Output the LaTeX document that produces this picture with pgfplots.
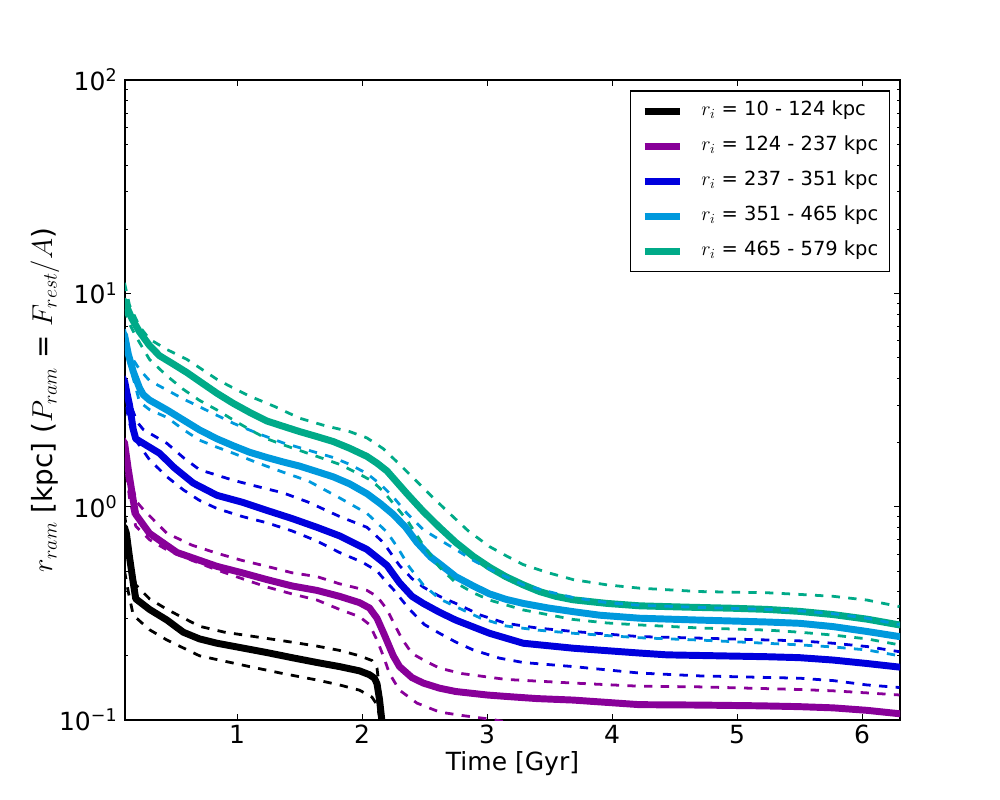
\documentclass[border=0pt]{standalone}
\usepackage{pgfplots}
\pgfplotsset{compat=1.18}
\usepackage{fontspec}
\setmainfont{DejaVu Sans}
\definecolor{cK}{rgb}{0,0,0}
\definecolor{cP}{rgb}{0.5333,0,0.6}
\definecolor{cB}{rgb}{0,0,0.8667}
\definecolor{cL}{rgb}{0,0.6,0.8667}
\definecolor{cG}{rgb}{0,0.6667,0.5333}
\pgfplotsset{
  sol/.style={line width=5bp, line join=round, line cap=round,
    legend image code/.code={\draw[line width=5bp, line cap=butt] (0bp,0bp) -- (25.2bp,0bp);}},
  das/.style={line width=2bp, dash pattern=on 6bp off 6bp, line join=round},
}
\begin{document}
\begin{tikzpicture}
\useasboundingbox (0,0) rectangle (10in,8in);
\begin{axis}[
  at={(1.25in,0.8in)}, anchor=south west,
  scale only axis, width=7.75in, height=6.4in,
  xmin=0.104, xmax=6.304, ymode=log, ymin=0.1, ymax=100,
  xtick={1,2,3,4,5,6},
  ytick={0.1,1,10,100},
  yticklabels={10\textsuperscript{−1},10\textsuperscript{0},10\textsuperscript{1},10\textsuperscript{2}},
  minor ytick={0.2,0.3,0.4,0.5,0.6,0.7,0.8,0.9,2,3,4,5,6,7,8,9,20,30,40,50,60,70,80,90},
  minor xtick={},
  /pgf/number format/assume math mode=true,
  tick pos=both, tick align=inside,
  major tick length=4bp, minor tick length=2bp,
  every tick/.style={black, line width=0.5bp},
  axis line style={line width=1bp},
  ticklabel style={font=\fontsize{18bp}{21.6bp}\selectfont},
  xticklabel style={yshift=0bp},
  yticklabel style={xshift=-2bp},
  xlabel={Time [Gyr]},
  xlabel style={font=\fontsize{18bp}{21.6bp}\selectfont, at={(axis description cs:0.5,-0.068)}, anchor=center},
  ylabel={$r_{ram}$ [kpc] ($P_{ram}$ = $F_{rest}/A$)},
  ylabel style={font=\fontsize{20bp}{24bp}\selectfont, at={(axis description cs:-0.1032,0.5)}, anchor=center},
  legend cell align=left,
  legend style={at={(axis description cs:0.987,0.984)}, anchor=north east,
    draw=black, line width=1bp, font=\fontsize{14bp}{16.8bp}\selectfont,
    inner xsep=7.9bp, inner ysep=8bp, row sep=12.2bp, column sep=0bp,
    nodes={inner sep=0bp, text height=10bp, text depth=3bp}},
]
% ---- solid lines ----
\addplot[sol, cK] coordinates {(0.10,0.80) (0.115,0.75) (0.14,0.58) (0.17,0.44) (0.19,0.37) (0.30,0.33) (0.44,0.294) (0.57,0.258) (0.70,0.240) (0.84,0.229) (1.00,0.220) (1.24,0.207) (1.44,0.196) (1.64,0.186) (1.82,0.178) (1.98,0.170) (2.06,0.163) (2.10,0.157) (2.12,0.148) (2.14,0.125) (2.16,0.098)};
\addlegendentry{\hspace{13bp}$r_i$ = 10 - 124 kpc}
\addplot[sol, cP] coordinates {(0.10,2.0) (0.13,1.5) (0.17,1.07) (0.19,0.92) (0.30,0.75) (0.52,0.61) (0.84,0.525) (1.04,0.49) (1.24,0.455) (1.44,0.425) (1.64,0.405) (1.82,0.38) (1.98,0.355) (2.06,0.335) (2.12,0.30) (2.18,0.25) (2.25,0.20) (2.30,0.178) (2.40,0.158) (2.49,0.149) (2.62,0.141) (2.75,0.136) (3.0,0.131) (3.15,0.129) (3.4,0.126) (3.69,0.124) (4.22,0.118) (4.7,0.1175) (5.2,0.1165) (5.5,0.1155) (5.77,0.114) (6.04,0.111) (6.3,0.107)};
\addlegendentry{\hspace{13bp}$r_i$ = 124 - 237 kpc}
\addplot[sol, cB] coordinates {(0.10,3.9) (0.12,3.4) (0.14,3.0) (0.17,2.3) (0.19,2.08) (0.38,1.78) (0.50,1.52) (0.65,1.29) (0.84,1.13) (1.04,1.05) (1.24,0.96) (1.44,0.88) (1.64,0.80) (1.82,0.73) (2.04,0.63) (2.15,0.56) (2.20,0.53) (2.30,0.44) (2.40,0.38) (2.49,0.352) (2.62,0.32) (2.75,0.294) (3.02,0.255) (3.29,0.229) (3.69,0.217) (4.22,0.206) (4.44,0.202) (5.24,0.198) (5.5,0.196) (5.77,0.191) (6.04,0.184) (6.3,0.177)};
\addlegendentry{\hspace{13bp}$r_i$ = 237 - 351 kpc}
\addplot[sol, cL] coordinates {(0.10,6.4) (0.13,5.2) (0.17,4.3) (0.22,3.6) (0.25,3.35) (0.30,3.16) (0.44,2.84) (0.57,2.55) (0.70,2.29) (0.84,2.08) (0.97,1.93) (1.10,1.80) (1.24,1.70) (1.37,1.62) (1.50,1.55) (1.64,1.46) (1.77,1.38) (1.90,1.28) (2.04,1.15) (2.15,1.03) (2.25,0.92) (2.35,0.80) (2.44,0.68) (2.55,0.58) (2.62,0.54) (2.75,0.47) (2.89,0.425) (3.02,0.39) (3.15,0.368) (3.29,0.352) (3.49,0.335) (3.69,0.322) (3.9,0.31) (4.22,0.30) (4.7,0.294) (5.24,0.288) (5.5,0.284) (5.77,0.274) (6.04,0.26) (6.3,0.246)};
\addlegendentry{\hspace{13bp}$r_i$ = 351 - 465 kpc}
\addplot[sol, cG] coordinates {(0.10,9.2) (0.12,8.6) (0.16,7.6) (0.22,6.6) (0.30,5.7) (0.38,5.1) (0.48,4.7) (0.60,4.25) (0.72,3.8) (0.84,3.4) (0.97,3.05) (1.10,2.77) (1.24,2.52) (1.37,2.38) (1.50,2.25) (1.64,2.13) (1.77,2.02) (1.90,1.88) (2.04,1.72) (2.12,1.60) (2.20,1.47) (2.28,1.30) (2.36,1.15) (2.49,0.95) (2.62,0.80) (2.75,0.68) (2.89,0.585) (3.02,0.52) (3.15,0.47) (3.29,0.43) (3.42,0.40) (3.55,0.38) (3.69,0.366) (3.96,0.352) (4.22,0.343) (4.6,0.338) (4.97,0.334) (5.24,0.33) (5.5,0.323) (5.77,0.312) (6.04,0.297) (6.3,0.279)};
\addlegendentry{\hspace{13bp}$r_i$ = 465 - 579 kpc}
% ---- dashed lines ----
\addplot[das, cK, forget plot] coordinates {(0.10,0.92) (0.13,0.70) (0.16,0.50) (0.19,0.43) (0.30,0.37) (0.44,0.33) (0.70,0.275) (0.90,0.258) (1.10,0.248) (1.37,0.235) (1.64,0.222) (1.82,0.212) (1.98,0.200) (2.08,0.190) (2.12,0.175) (2.14,0.14) (2.16,0.098)};
\addplot[das, cK, forget plot] coordinates {(0.10,0.50) (0.13,0.40) (0.17,0.31) (0.30,0.265) (0.44,0.237) (0.70,0.200) (1.10,0.178) (1.37,0.165) (1.64,0.154) (1.82,0.146) (1.98,0.138) (2.08,0.128) (2.12,0.118) (2.15,0.098)};
\addplot[das, cP, forget plot] coordinates {(0.10,2.1) (0.15,1.3) (0.20,1.05) (0.25,0.97) (0.44,0.75) (0.64,0.66) (0.84,0.605) (1.04,0.56) (1.24,0.525) (1.44,0.49) (1.64,0.47) (1.82,0.435) (2.04,0.405) (2.12,0.38) (2.20,0.33) (2.26,0.28) (2.32,0.24) (2.40,0.205) (2.50,0.19) (2.62,0.175) (2.80,0.165) (3.15,0.155) (3.69,0.149) (4.22,0.144) (4.7,0.143) (5.5,0.139) (5.77,0.137) (6.04,0.134) (6.3,0.131)};
\addplot[das, cP, forget plot] coordinates {(0.10,1.7) (0.14,1.1) (0.19,0.81) (0.30,0.70) (0.44,0.627) (0.64,0.56) (0.84,0.505) (1.04,0.46) (1.24,0.42) (1.44,0.39) (1.64,0.365) (1.82,0.33) (1.98,0.305) (2.06,0.28) (2.12,0.237) (2.17,0.20) (2.22,0.165) (2.30,0.138) (2.44,0.12) (2.62,0.109) (2.80,0.105) (3.02,0.101) (3.15,0.098)};
\addplot[das, cB, forget plot] coordinates {(0.10,4.1) (0.15,3.0) (0.20,2.5) (0.25,2.3) (0.44,1.98) (0.57,1.70) (0.70,1.49) (0.97,1.33) (1.17,1.24) (1.37,1.16) (1.57,1.05) (1.82,0.90) (2.04,0.80) (2.17,0.68) (2.30,0.53) (2.40,0.46) (2.49,0.42) (2.62,0.38) (2.75,0.352) (2.95,0.31) (3.15,0.284) (3.4,0.27) (3.69,0.26) (4.22,0.246) (4.7,0.242) (5.5,0.235) (5.77,0.229) (6.04,0.221) (6.3,0.209)};
\addplot[das, cB, forget plot] coordinates {(0.10,3.5) (0.13,2.6) (0.17,2.13) (0.30,1.66) (0.44,1.38) (0.57,1.20) (0.70,1.07) (0.84,0.98) (1.04,0.90) (1.24,0.84) (1.44,0.77) (1.64,0.69) (1.82,0.61) (2.00,0.55) (2.12,0.50) (2.20,0.44) (2.25,0.41) (2.38,0.33) (2.50,0.28) (2.62,0.255) (2.75,0.232) (2.89,0.213) (3.1,0.195) (3.29,0.186) (3.69,0.178) (4.22,0.166) (4.7,0.161) (5.5,0.157) (5.77,0.153) (6.04,0.146) (6.3,0.142)};
\addplot[das, cL, forget plot] coordinates {(0.10,6.8) (0.14,5.2) (0.22,4.4) (0.30,3.9) (0.44,3.52) (0.57,3.2) (0.70,2.94) (0.84,2.68) (0.97,2.46) (1.17,2.2) (1.37,1.99) (1.57,1.84) (1.77,1.70) (1.90,1.58) (2.04,1.43) (2.15,1.27) (2.25,1.11) (2.36,0.93) (2.49,0.78) (2.62,0.70) (2.75,0.63) (2.89,0.56) (3.02,0.51) (3.15,0.47) (3.29,0.43) (3.49,0.40) (3.69,0.375) (3.96,0.355) (4.22,0.345) (4.7,0.337) (5.24,0.33) (5.5,0.325) (5.77,0.315) (6.04,0.30) (6.3,0.28)};
\addplot[das, cL, forget plot] coordinates {(0.10,5.9) (0.13,4.8) (0.17,4.0) (0.22,3.1) (0.30,2.85) (0.44,2.62) (0.57,2.30) (0.70,2.05) (0.84,1.90) (0.97,1.78) (1.17,1.60) (1.37,1.45) (1.57,1.32) (1.82,1.10) (2.04,0.93) (2.20,0.76) (2.28,0.65) (2.38,0.52) (2.49,0.43) (2.62,0.37) (2.75,0.34) (2.95,0.30) (3.15,0.276) (3.4,0.264) (3.69,0.255) (4.22,0.243) (4.7,0.237) (5.5,0.225) (5.77,0.220) (6.04,0.213) (6.3,0.20)};
\addplot[das, cG, forget plot] coordinates {(0.10,11.2) (0.14,8.8) (0.22,7.0) (0.30,6.1) (0.44,5.45) (0.60,4.9) (0.72,4.4) (0.84,3.95) (0.97,3.6) (1.10,3.3) (1.30,2.95) (1.50,2.6) (1.70,2.4) (1.90,2.25) (2.04,2.1) (2.17,1.87) (2.30,1.58) (2.44,1.31) (2.57,1.1) (2.70,0.93) (2.85,0.77) (3.02,0.65) (3.15,0.59) (3.29,0.535) (3.49,0.49) (3.69,0.455) (3.96,0.43) (4.22,0.415) (4.7,0.40) (5.24,0.395) (5.5,0.388) (5.77,0.38) (6.04,0.365) (6.3,0.34)};
\addplot[das, cG, forget plot] coordinates {(0.10,8.4) (0.14,7.2) (0.19,6.3) (0.30,4.9) (0.44,4.1) (0.57,3.55) (0.70,3.15) (0.84,2.84) (0.97,2.55) (1.10,2.30) (1.24,2.08) (1.37,1.95) (1.64,1.72) (1.82,1.58) (1.98,1.42) (2.08,1.32) (2.17,1.18) (2.26,1.02) (2.36,0.866) (2.49,0.66) (2.62,0.52) (2.75,0.44) (2.89,0.395) (3.02,0.365) (3.29,0.328) (3.69,0.296) (3.96,0.285) (4.22,0.279) (4.7,0.27) (5.24,0.264) (5.5,0.258) (5.77,0.25) (6.04,0.24) (6.3,0.225)};
\end{axis}
\end{tikzpicture}
\end{document}
